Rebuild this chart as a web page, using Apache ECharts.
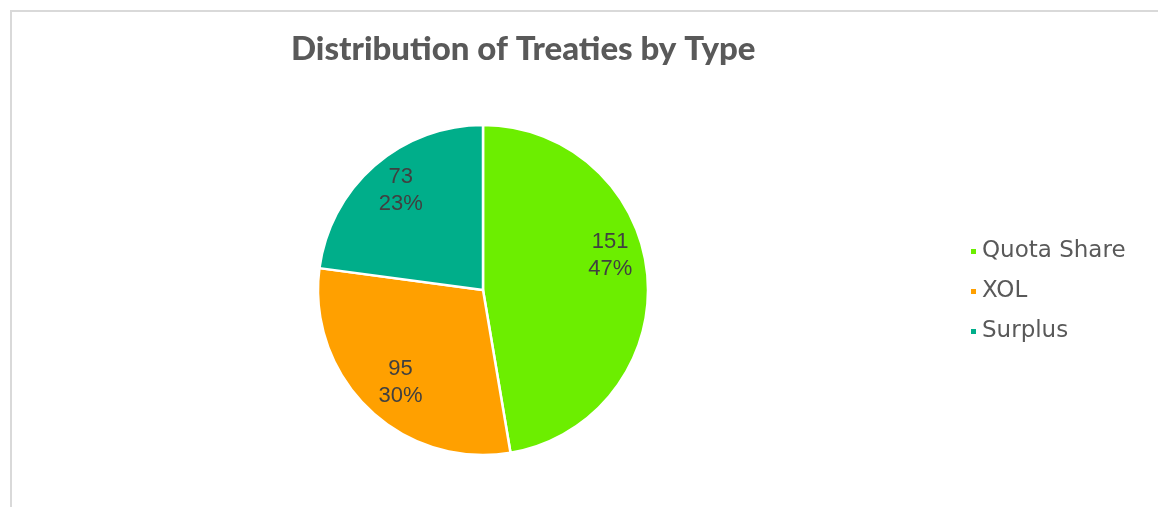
<!DOCTYPE html>
<html>
<head>
<meta charset="utf-8">
<title>Distribution of Treaties by Type</title>
<script src="https://cdn.jsdelivr.net/npm/echarts@6/dist/echarts.min.js"></script>
<style>
  html, body { margin: 0; padding: 0; background: #ffffff; }
  #chart { width: 1158px; height: 507px; }
</style>
</head>
<body>
<div id="chart"></div>
<script>
// Treaty counts per type
const categories = ['Quota Share', 'XOL', 'Surplus'];
const treatyCounts = [151, 95, 73];
const sliceColors = ['#6CEE00', '#FFA000', '#00AE8A'];

// Label nudges (px) so labels sit toward the outer part of each slice
const labelNudge = [[42, -27], [-23, 31], [-26, -35]];

const chart = echarts.init(document.getElementById('chart'), null, { renderer: 'canvas' });

const pieData = categories.map((name, i) => ({
  name: name,
  value: treatyCounts[i],
  itemStyle: { color: sliceColors[i] }
}));

chart.setOption({
  animation: false,
  backgroundColor: '#ffffff',
  graphic: [{
    type: 'rect',
    shape: { x: 11, y: 11, width: 1300, height: 700 },
    style: { fill: 'none', stroke: '#d9d9d9', lineWidth: 2 },
    silent: true
  }],
  title: {
    text: 'Distribution of Treaties by Type',
    left: 286,
    top: 28,
    textStyle: {
      fontFamily: 'Lato',
      fontWeight: 900,
      fontSize: 33,
      color: '#595959'
    }
  },
  legend: {
    orient: 'vertical',
    left: 964,
    top: 235,
    icon: 'rect',
    itemWidth: 7,
    itemHeight: 7,
    itemGap: 17,
    data: categories,
    textStyle: {
      fontFamily: 'DejaVu Sans',
      fontSize: 23,
      lineHeight: 23,
      color: '#595959'
    }
  },
  series: [{
    type: 'pie',
    center: [483, 290],
    radius: [0, 165],
    startAngle: 90,
    clockwise: true,
    data: pieData,
    itemStyle: { borderColor: '#ffffff', borderWidth: 2.5 },
    label: {
      show: true,
      position: 'inside',
      formatter: (p) => p.value + '\n' + Math.round(p.percent) + '%',
      fontFamily: 'Liberation Sans',
      fontSize: 22,
      lineHeight: 27,
      color: '#404040'
    },
    labelLayout: (params) => ({
      dx: labelNudge[params.dataIndex][0],
      dy: labelNudge[params.dataIndex][1]
    }),
    labelLine: { show: false },
    emphasis: { disabled: true }
  }]
});
</script>
</body>
</html>
